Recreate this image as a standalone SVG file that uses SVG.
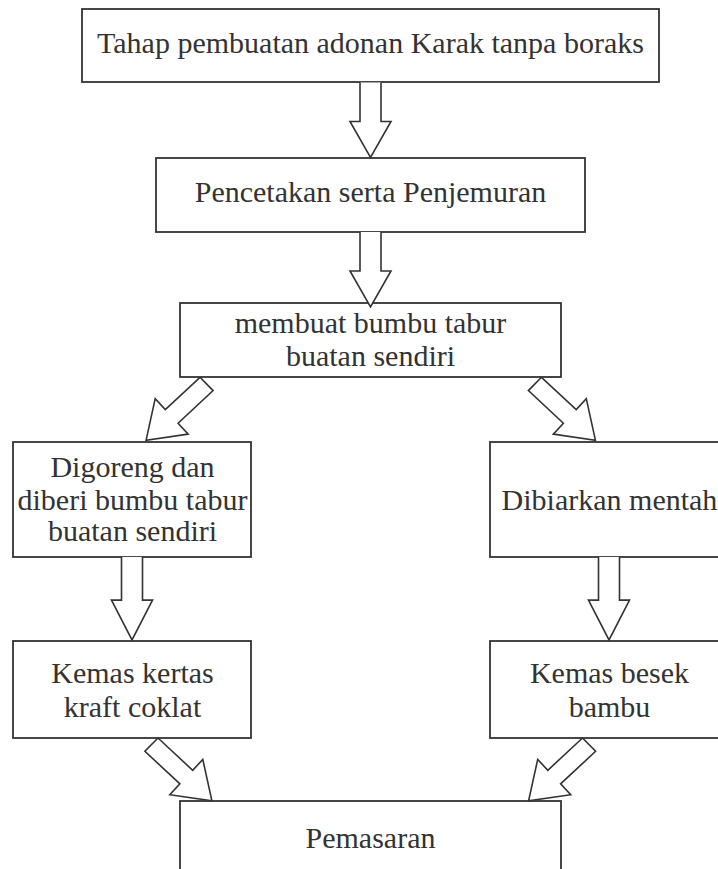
<svg xmlns="http://www.w3.org/2000/svg" width="718" height="869" viewBox="0 0 718 869">
<defs>
<style>
.box{fill:#fff;stroke:#333;stroke-width:1.8}
.arr{fill:#fff;stroke:#333;stroke-width:1.6;stroke-linejoin:miter}
text{font-family:"Liberation Serif","Times New Roman",serif;font-size:30px;fill:#333;text-anchor:middle}
</style>
<path id="vdown" d="M-10.5,0 V39 H-20.5 L0,75 L20.5,39 H10.5 V0"/>
<path id="diag" d="M0,0 L13.1,13.3 L-21.9,45.9 L-11.8,56.8 L-53.9,62.9 L-44.8,21.4 L-34.7,32.3 Z"/>
</defs>
<rect width="718" height="869" fill="#fff"/>
<g id="n1"><rect class="box" x="82" y="9" width="577" height="73"/><text x="370.5" y="53.3">Tahap pembuatan adonan Karak tanpa boraks</text></g>
<g id="n2"><rect class="box" x="156" y="158" width="429" height="74"/><text x="370.5" y="201.7">Pencetakan serta Penjemuran</text></g>
<g id="n3"><rect class="box" x="180" y="303" width="381" height="74"/><text x="370.5" y="333.3">membuat bumbu tabur</text><text x="370.5" y="366">buatan sendiri</text></g>
<g id="n4"><rect class="box" x="13" y="442" width="238" height="115"/><text x="132.5" y="476.7">Digoreng dan</text><text x="132.5" y="509.5">diberi bumbu tabur</text><text x="132.5" y="541">buatan sendiri</text></g>
<g id="n5"><rect class="box" x="490" y="442" width="240" height="115"/><text x="609.5" y="510">Dibiarkan mentah</text></g>
<g id="n6"><rect class="box" x="13" y="641" width="238" height="97"/><text x="132.5" y="683">Kemas kertas</text><text x="132.5" y="716.7">kraft coklat</text></g>
<g id="n7"><rect class="box" x="490" y="641" width="240" height="97"/><text x="609.5" y="683">Kemas besek</text><text x="609.5" y="716.7">bambu</text></g>
<g id="n8"><rect class="box" x="180" y="801" width="381" height="90"/><text x="370.5" y="848.3">Pemasaran</text></g>
<g id="connectors">
<use href="#vdown" class="arr" transform="translate(370.5,82.5)"/>
<use href="#vdown" class="arr" transform="translate(370.5,232)"/>
<use href="#vdown" class="arr" transform="translate(132,557) scale(1,1.107)"/>
<use href="#vdown" class="arr" transform="translate(609,557) scale(1,1.107)"/>
<use href="#diag" class="arr" transform="translate(200,377.3)"/>
<use href="#diag" class="arr" transform="translate(541.5,377.3) scale(-1,1)"/>
<use href="#diag" class="arr" transform="translate(158,738) scale(-1,1)"/>
<use href="#diag" class="arr" transform="translate(582.5,738)"/>
</g>
</svg>
